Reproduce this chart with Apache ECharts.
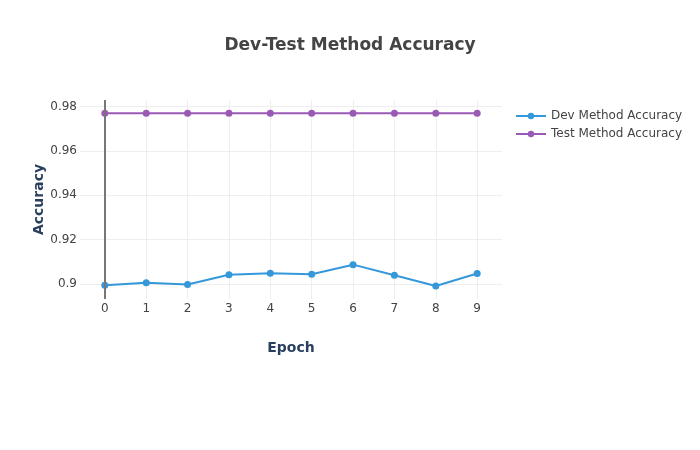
<!DOCTYPE html>
<html>
<head>
<meta charset="utf-8">
<script src="https://cdn.jsdelivr.net/npm/echarts@6/dist/echarts.min.js"></script>
<style>html,body{margin:0;padding:0;background:#fff}#c{width:700px;height:450px}</style>
</head>
<body>
<div id="c"></div>
<script>
const epochs = [0, 1, 2, 3, 4, 5, 6, 7, 8, 9];
const devAccuracy = [0.8994, 0.9005, 0.8997, 0.9041, 0.9048, 0.9044, 0.9087, 0.9039, 0.8991, 0.9047];
const testAccuracy = [0.9770, 0.9770, 0.9770, 0.9770, 0.9770, 0.9770, 0.9770, 0.9770, 0.9770, 0.9770];
const yTicks = [0.9, 0.92, 0.94, 0.96, 0.98];
const xTicks = [0, 1, 2, 3, 4, 5, 6, 7, 8, 9];

const FONT = '"DejaVu Sans", Verdana, sans-serif';
const chart = echarts.init(document.getElementById('c'), null, {renderer: 'canvas'});
chart.setOption({
  animation: false,
  backgroundColor: '#fff',
  title: {
    text: 'Dev-Test Method Accuracy',
    left: 'center', top: 32,
    textStyle: {fontFamily: FONT, fontSize: 17, fontWeight: 'bold', color: '#444'}
  },
  legend: {
    left: 515, top: 110, orient: 'vertical', padding: 0,
    itemWidth: 30, itemHeight: 8, itemGap: 6,
    textStyle: {fontFamily: FONT, fontSize: 12, color: '#444'},
    data: ['Dev Method Accuracy', 'Test Method Accuracy']
  },
  grid: {left: 80, top: 100, width: 422, height: 199, containLabel: false},
  xAxis: {
    type: 'value', min: -0.6, max: 9.6,
    name: 'Epoch', nameLocation: 'middle', nameGap: 42, nameMoveOverlap: false,
    nameTextStyle: {fontFamily: FONT, fontSize: 14, fontWeight: 'bold', color: '#2a3f5f'},
    axisLine: {show: false}, axisTick: {show: false, customValues: xTicks},
    axisLabel: {customValues: xTicks, margin: 4, fontFamily: FONT, fontSize: 12, color: '#444'},
    splitLine: {show: true, lineStyle: {color: '#eee', width: 1}}
  },
  yAxis: {
    type: 'value', min: 0.8932, max: 0.983,
    name: 'Accuracy', nameLocation: 'middle', nameGap: 34, nameMoveOverlap: false,
    nameTextStyle: {fontFamily: FONT, fontSize: 14, fontWeight: 'bold', color: '#2a3f5f'},
    axisLine: {show: false}, axisTick: {show: false, customValues: yTicks},
    axisLabel: {customValues: yTicks, margin: 3, fontFamily: FONT, fontSize: 12, color: '#444',
      formatter: v => String(Math.round(v * 100) / 100)},
    splitLine: {show: true, lineStyle: {color: '#eee', width: 1}}
  },
  series: [
    {
      name: 'Dev Method Accuracy', type: 'line',
      data: epochs.map((e, i) => [e, devAccuracy[i]]),
      symbol: 'circle', symbolSize: 7,
      lineStyle: {color: '#3498db', width: 2}, itemStyle: {color: '#3498db'},
      markLine: {
        silent: true, symbol: ['none', 'none'], label: {show: false},
        lineStyle: {color: '#777', width: 2, type: 'solid'},
        data: [{xAxis: 0}]
      },
      z: 3
    },
    {
      name: 'Test Method Accuracy', type: 'line',
      data: epochs.map((e, i) => [e, testAccuracy[i]]),
      symbol: 'circle', symbolSize: 7,
      lineStyle: {color: '#9b59b6', width: 2}, itemStyle: {color: '#9b59b6'},
      z: 3
    }
  ]
});
</script>
</body>
</html>
